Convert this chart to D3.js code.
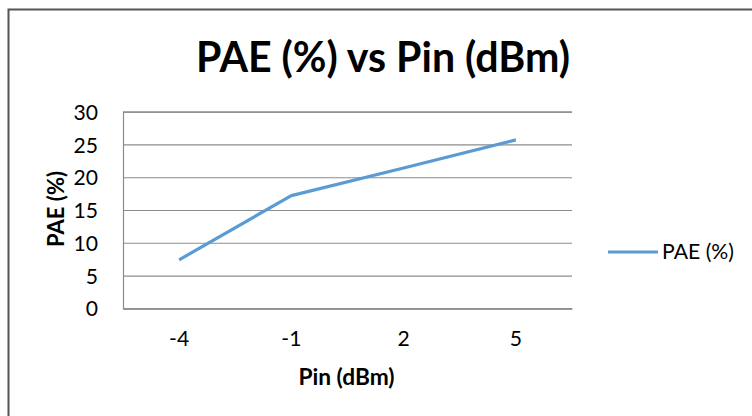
<!DOCTYPE html>
<html><head><meta charset="utf-8">
<script src="https://cdn.jsdelivr.net/npm/d3@7"></script>
<style>body{margin:0;background:#fff}svg{display:block}text{font-family:Lato,"Open Sans",sans-serif;fill:#000}</style>
</head><body><svg id="c" width="752" height="416"></svg>
<script>
const categories = ["-4", "-1", "2", "5"];
const paeValues = [7.4, 17.2, 21.4, 25.7];
const yTicks = [0, 5, 10, 15, 20, 25, 30];
const seriesName = "PAE (%)";
const titleText = "PAE (%) vs Pin (dBm)";
const xLabel = "Pin (dBm)";
const yLabel = "PAE (%)";

const svg = d3.select("#c");
const L = 123, R = 572, T = 111.7, B = 308.3;
const x = d3.scaleBand().domain(categories).range([L, R]);
const y = d3.scaleLinear().domain([0, 30]).range([B, T]);

function fitWidth(sel, w) {
  const cur = sel.node().getComputedTextLength();
  const fs = +sel.attr("font-size");
  const nf = fs * w / cur;
  sel.attr("font-size", nf);
  return nf;
}

// outer border
svg.append("path").attr("d", "M8.5,420 V9.5 H760").attr("fill", "none").attr("stroke", "#555").attr("stroke-width", 2);

// title
const title = svg.append("text").attr("x", 383).attr("y", 72).attr("text-anchor", "middle")
  .attr("font-weight", "bold").attr("font-size", 33).text(titleText);
fitWidth(title, 374);

// tick font size so "30" ~ 24px wide
const probe = svg.append("text").attr("font-size", 20).text("30");
const tickFs = fitWidth(probe, 24.5);
probe.remove();

// gridlines
const yAxis = d3.axisLeft(y).tickValues(yTicks).tickSize(-(R - L)).tickPadding(25).tickFormat(d3.format("d"));
const gy = svg.append("g").attr("transform", `translate(${L},0)`).call(yAxis);
gy.select(".domain").attr("stroke", "#8c8c8c").attr("stroke-width", 1.2);
gy.selectAll(".tick line").attr("stroke", "#8c8c8c").attr("stroke-width", 1.2);
gy.selectAll(".tick text").attr("font-size", tickFs).attr("font-family", "Lato").attr("fill", "#000").attr("x", -25).attr("dy", "0.36em");

const xAxis = d3.axisBottom(x).tickSize(0).tickPadding(25);
const gx = svg.append("g").attr("transform", `translate(0,${B})`).call(xAxis);
gx.select(".domain").attr("stroke", "#8c8c8c").attr("stroke-width", 1.2);
gx.selectAll(".tick text").attr("font-size", tickFs).attr("font-family", "Lato").attr("fill", "#000").attr("dy", "0.71em").attr("y", 23);

// line
const line = d3.line().x((d, i) => x(categories[i]) + x.bandwidth() / 2).y(d => y(d));
svg.append("path").datum(paeValues).attr("d", line).attr("fill", "none")
  .attr("stroke", "#5b9bd5").attr("stroke-width", 3.2).attr("stroke-linejoin", "round");

// axis titles
const xt = svg.append("text").attr("x", (L + R) / 2 - 1).attr("y", 385).attr("text-anchor", "middle")
  .attr("font-weight", "bold").attr("font-size", 17).text(xLabel);
fitWidth(xt, 96);
const yt = svg.append("text").attr("transform", `translate(64,${(T + B) / 2 - 1}) rotate(-90)`).attr("text-anchor", "middle")
  .attr("font-weight", "bold").attr("font-size", 17).text(yLabel);
fitWidth(yt, 76);

// legend
svg.append("line").attr("x1", 608).attr("x2", 658).attr("y1", 252).attr("y2", 252)
  .attr("stroke", "#5b9bd5").attr("stroke-width", 3.2);
const lt = svg.append("text").attr("x", 662).attr("y", 259).attr("font-size", 17).text(seriesName);
fitWidth(lt, 72);
</script></body></html>
